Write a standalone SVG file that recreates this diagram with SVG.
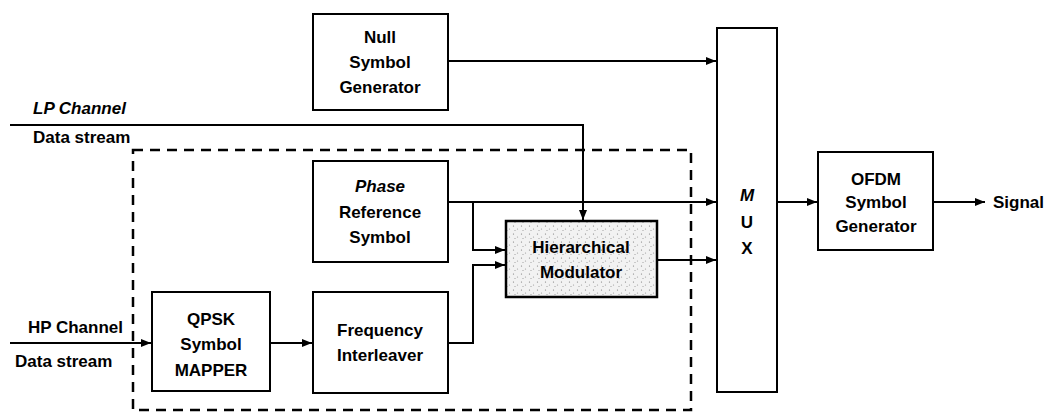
<svg xmlns="http://www.w3.org/2000/svg" width="1053" height="417" viewBox="0 0 1053 417">
<style>
.box{fill:#fff;stroke:#000;stroke-width:2}
.hm{fill:url(#stip);stroke:#000;stroke-width:2.5}
.t{font-family:"Liberation Sans",Arial,sans-serif;font-weight:bold;font-size:17px;fill:#000;text-anchor:middle}
.l{font-family:"Liberation Sans",Arial,sans-serif;font-weight:bold;font-size:17px;fill:#000}
.c{fill:none;stroke:#000;stroke-width:2}
.dash{fill:none;stroke:#000;stroke-width:2.5;stroke-dasharray:10 7}
</style>
<defs>
<pattern id="stip" width="8" height="8" patternUnits="userSpaceOnUse">
<rect width="8" height="8" fill="#f2f2f2"/>
<circle cx="1.5" cy="2" r="0.6" fill="#777"/>
<circle cx="5.5" cy="5" r="0.6" fill="#999"/>
<circle cx="3" cy="6.5" r="0.5" fill="#888"/>
</pattern>
<marker id="ah" markerWidth="10" markerHeight="8" refX="10" refY="4" orient="auto" markerUnits="userSpaceOnUse">
<path d="M0,0 L10,4 L0,8 z" fill="#000"/>
</marker>
</defs>
<rect width="1053" height="417" fill="#fff"/>

<g id="subsystem">
<rect class="dash" x="133" y="150" width="558" height="260"/>
</g>

<g id="connectors">
<path class="c" d="M448,61 H716" marker-end="url(#ah)"/>
<path class="c" d="M10,125 H583 V220" marker-end="url(#ah)"/>
<path class="c" d="M448,202 H716" marker-end="url(#ah)"/>
<path class="c" d="M473,202 V250 H505" marker-end="url(#ah)"/>
<path class="c" d="M448,343 H473 V265 H505" marker-end="url(#ah)"/>
<path class="c" d="M657,260 H716" marker-end="url(#ah)"/>
<path class="c" d="M10,343 H151" marker-end="url(#ah)"/>
<path class="c" d="M270,343 H312" marker-end="url(#ah)"/>
<path class="c" d="M777,202 H817" marker-end="url(#ah)"/>
<path class="c" d="M933,202 H985" marker-end="url(#ah)"/>
</g>

<g id="labels">
<text class="l" x="33" y="114" font-style="italic">LP Channel</text>
<text class="l" x="33" y="143">Data stream</text>
<text class="l" x="123" y="333" text-anchor="end">HP Channel</text>
<text class="l" x="15" y="367">Data stream</text>
<text class="l" x="993" y="208">Signal</text>
</g>

<g id="null-symbol-generator">
<rect class="box" x="313" y="14" width="135" height="96"/>
<text class="t" x="380" y="43">Null</text>
<text class="t" x="380" y="68">Symbol</text>
<text class="t" x="380" y="93">Generator</text>
</g>

<g id="phase-reference-symbol">
<rect class="box" x="313" y="161" width="135" height="101"/>
<text class="t" x="380" y="192" font-style="italic">Phase</text>
<text class="t" x="380" y="218">Reference</text>
<text class="t" x="380" y="243">Symbol</text>
</g>

<g id="qpsk-symbol-mapper">
<rect class="box" x="152" y="292" width="118" height="99"/>
<text class="t" x="211" y="325">QPSK</text>
<text class="t" x="211" y="350">Symbol</text>
<text class="t" x="211" y="376">MAPPER</text>
</g>

<g id="frequency-interleaver">
<rect class="box" x="313" y="292" width="135" height="101"/>
<text class="t" x="380" y="336">Frequency</text>
<text class="t" x="380" y="361">Interleaver</text>
</g>

<g id="hierarchical-modulator">
<rect class="hm" x="506" y="221" width="151" height="76"/>
<text class="t" x="581" y="253" fill="#222">Hierarchical</text>
<text class="t" x="581" y="278" fill="#222">Modulator</text>
</g>

<g id="mux">
<rect class="box" x="717" y="28" width="60" height="364"/>
<text class="t" x="747" y="201" font-style="italic">M</text>
<text class="t" x="747" y="228">U</text>
<text class="t" x="747" y="254">X</text>
</g>

<g id="ofdm-symbol-generator">
<rect class="box" x="818" y="152" width="115" height="98"/>
<text class="t" x="876" y="185">OFDM</text>
<text class="t" x="876" y="208">Symbol</text>
<text class="t" x="876" y="232">Generator</text>
</g>
</svg>
